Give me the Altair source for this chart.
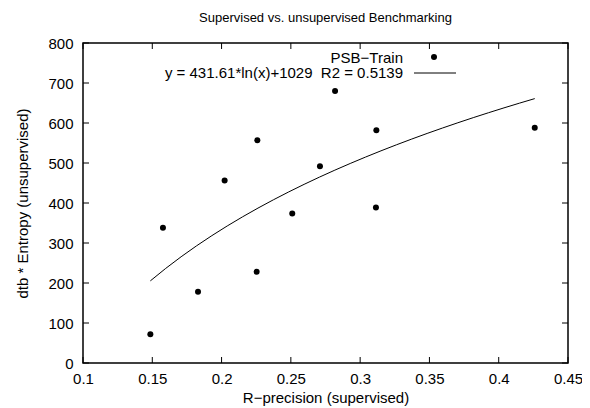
import altair as alt
import pandas as pd

# Data
precision = [0.1486, 0.1577, 0.183, 0.2022, 0.2253, 0.2258, 0.251, 0.271, 0.2819, 0.3114, 0.3117, 0.426]
entropy = [72, 338, 178, 456, 228, 557, 374, 492, 680, 389, 582, 588]
x_ticks = [0.1, 0.15, 0.2, 0.25, 0.3, 0.35, 0.4, 0.45]
y_ticks = [0, 100, 200, 300, 400, 500, 600, 700, 800]
series_label = "PSB\u2212Train"
fit_label = "y = 431.61*ln(x)+1029 \u00a0R2 = 0.5139"
title_text = "Supervised vs. unsupervised Benchmarking"
x_title = "R\u2212precision (supervised)"
y_title = "dtb * Entropy (unsupervised)"

FONT = "Liberation Sans"
FS = 15
W, H = 485, 320
TICK = 6
DOT = 36

df = pd.DataFrame({"x": precision, "y": entropy})
xt = pd.DataFrame({"x": x_ticks})
yt = pd.DataFrame({"y": y_ticks})

xscale = alt.Scale(domain=[0.1, 0.45], nice=False, zero=False)
yscale = alt.Scale(domain=[0, 800], nice=False, zero=False)

axis_common = dict(domain=False, ticks=False, grid=False, labelFontSize=FS, titleFontSize=FS,
                   labelFont=FONT, titleFont=FONT, titleFontWeight="normal",
                   labelColor="black", titleColor="black", labelFlush=False)
xaxis = alt.Axis(values=x_ticks, format="~g", labelPadding=8, titlePadding=4, **axis_common)
yaxis = alt.Axis(values=y_ticks, labelPadding=10, titlePadding=17, **axis_common)


def X(field="x"):
    return alt.X(f"{field}:Q", scale=xscale, title=x_title, axis=xaxis)


def Y(field="y"):
    return alt.Y(f"{field}:Q", scale=yscale, title=y_title, axis=yaxis)


points = alt.Chart(df).mark_circle(size=DOT, color="black", opacity=1).encode(x=X(), y=Y())

fit = alt.Chart(df).transform_regression("x", "y", method="log").mark_line(
    color="black", strokeWidth=1
).encode(x=X(), y=Y())

rule_style = dict(color="black", strokeWidth=1)
xt_bottom = alt.Chart(xt).mark_rule(**rule_style).encode(
    x=X(), y=alt.value(H), y2=alt.value(H - TICK))
xt_top = alt.Chart(xt).mark_rule(**rule_style).encode(
    x=X(), y=alt.value(0), y2=alt.value(TICK))
yt_left = alt.Chart(yt).mark_rule(**rule_style).encode(
    y=Y(), x=alt.value(0), x2=alt.value(TICK))
yt_right = alt.Chart(yt).mark_rule(**rule_style).encode(
    y=Y(), x=alt.value(W), x2=alt.value(W - TICK))

leg = pd.DataFrame({"a": [series_label], "b": [fit_label]})
leg_t1 = alt.Chart(leg).mark_text(align="right", baseline="middle", fontSize=FS, font=FONT,
                                  color="black").encode(text="a:N", x=alt.value(320), y=alt.value(15))
leg_t2 = alt.Chart(leg).mark_text(align="right", baseline="middle", fontSize=FS, font=FONT,
                                  color="black").encode(text="b:N", x=alt.value(320), y=alt.value(30))
leg_pt = alt.Chart(leg).mark_circle(size=DOT, color="black", opacity=1).encode(
    x=alt.value(351), y=alt.value(14))
leg_ln = alt.Chart(leg).mark_rule(color="black", strokeWidth=1).encode(
    x=alt.value(331), x2=alt.value(373), y=alt.value(30))

chart = alt.layer(
    points, fit, xt_bottom, xt_top, yt_left, yt_right, leg_t1, leg_t2, leg_pt, leg_ln
).properties(
    width=W, height=H,
    title=alt.TitleParams(title_text, fontSize=13, fontWeight="normal", font=FONT,
                          color="black", anchor="middle", offset=11),
    autosize=alt.AutoSizeParams(type="none"),
    padding={"left": 75, "top": 35, "right": 14, "bottom": 45},
).configure(background="white").configure_view(stroke="black", strokeWidth=1.5)

chart.save("out.html", embed_options={"renderer": "svg", "actions": False})
